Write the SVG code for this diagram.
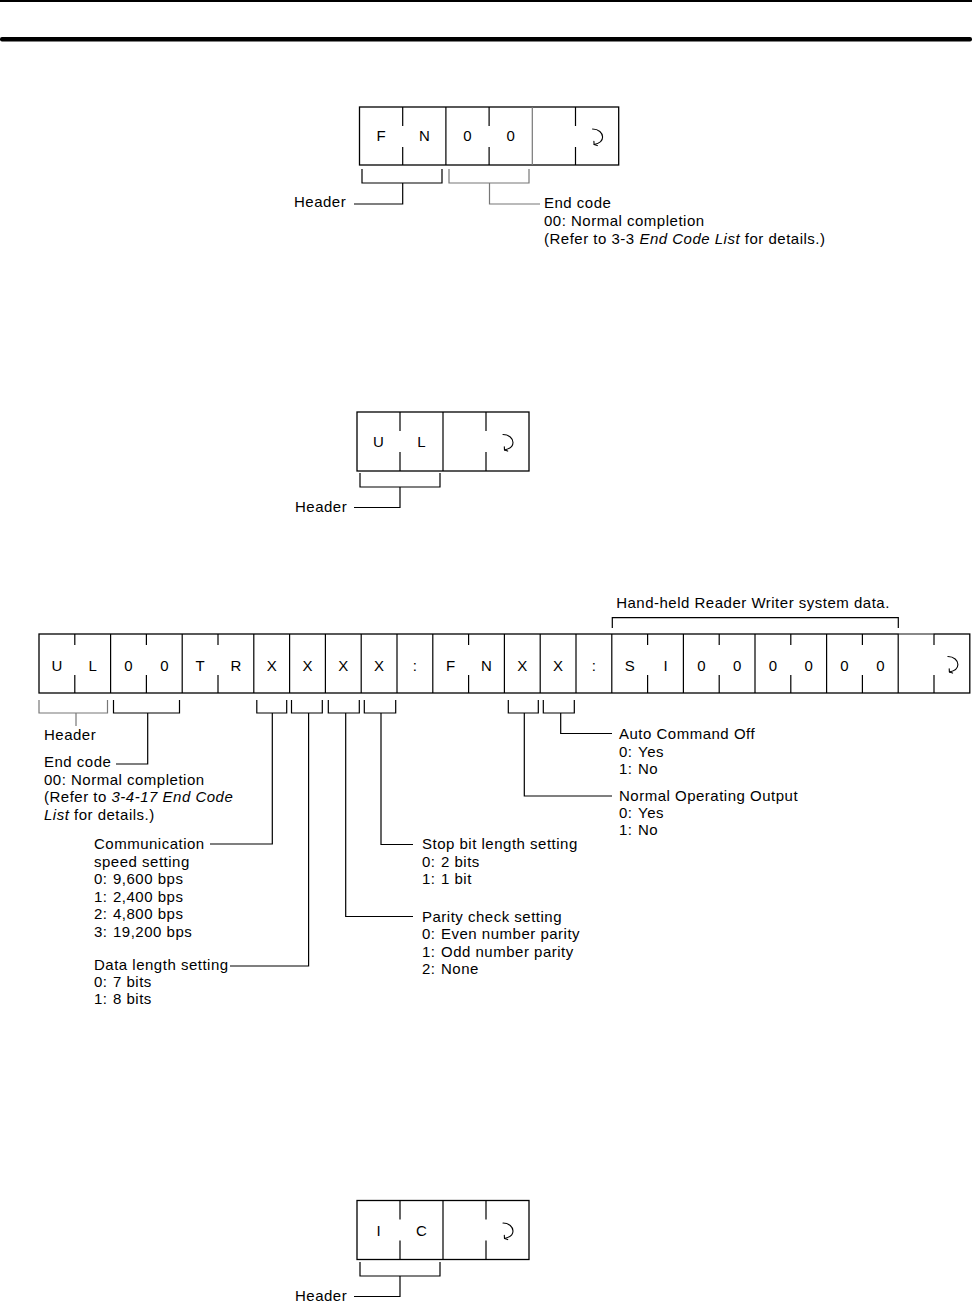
<svg xmlns="http://www.w3.org/2000/svg" width="972" height="1308" viewBox="0 0 972 1308">
<style>
.t{font-family:"Liberation Sans",Arial,sans-serif;font-size:15px;letter-spacing:0.5px;fill:#000;white-space:pre}
.c{font-family:"Liberation Sans",Arial,sans-serif;font-size:15px;fill:#000;text-anchor:middle}
.i{font-style:italic}
.b{fill:#fff;stroke:#000;stroke-width:1.3}
.l{fill:none;stroke:#000;stroke-width:1.2}
.g{fill:none;stroke:#777;stroke-width:1.2}
.r{fill:none;stroke:#000;stroke-width:1.1;stroke-linecap:round;stroke-linejoin:round}
</style>
<defs>
<g id="ret">
<path class="r" d="M-4.5 -7 C1.5 -7 5.5 -3 5.5 1 C5.5 5 2 7.5 -3 8.5"/>
<path class="r" d="M-3.2 5.2 L-3 8.5 L0.2 9.6"/>
</g>
</defs>

<rect x="0" y="0" width="972" height="2" fill="#000"/>
<rect x="0" y="37" width="972" height="4.5" rx="2" fill="#000"/>

<g id="cmd-fn-box">
<rect class="b" x="359.5" y="107" width="259.2" height="58"/>
<path class="l" d="M402.7 107V126M402.7 147V165M445.9 107V165M489.1 107V126M489.1 147V165M575.5 107V126M575.5 147V165"/>
<path class="g" d="M532.3 107V165"/>
<text class="c" x="381.1" y="141">F</text>
<text class="c" x="424.3" y="141">N</text>
<text class="c" x="467.5" y="141">0</text>
<text class="c" x="510.7" y="141">0</text>
<use href="#ret" x="597.1" y="136"/>
</g>

<g id="cmd-ul-box">
<rect class="b" x="357" y="412" width="172" height="59"/>
<path class="l" d="M400 412V431M400 452V471M443 412V471M486 412V431M486 452V471"/>
<text class="c" x="378.5" y="447">U</text>
<text class="c" x="421.5" y="447">L</text>
<use href="#ret" x="507.5" y="441.5"/>
</g>

<g id="response-row">
<rect class="b" x="39" y="634" width="930.8" height="59"/>
<path class="l" d="M74.8 634V645M74.8 675V693M146.4 634V645M146.4 675V693M218 634V645M218 675V693M468.6 634V645M468.6 675V693M647.6 634V645M647.6 675V693M719.2 634V645M719.2 675V693M790.8 634V645M790.8 675V693M862.4 634V645M862.4 675V693M934 634V645M934 675V693"/>
<path class="l" d="M110.6 634V693M182.2 634V693M253.8 634V693M289.6 634V693M325.4 634V693M361.2 634V693M397 634V693M432.8 634V693M504.4 634V693M540.2 634V693M576 634V693M611.8 634V693M683.4 634V693M755 634V693M826.6 634V693M898.2 634V693"/>
<path d="M898.8 634H933.4" stroke="#999" stroke-width="1.4"/>
<text class="c" x="56.9" y="671">U</text>
<text class="c" x="92.7" y="671">L</text>
<text class="c" x="128.5" y="671">0</text>
<text class="c" x="164.3" y="671">0</text>
<text class="c" x="200.1" y="671">T</text>
<text class="c" x="235.9" y="671">R</text>
<text class="c" x="271.7" y="671">X</text>
<text class="c" x="307.5" y="671">X</text>
<text class="c" x="343.3" y="671">X</text>
<text class="c" x="379.1" y="671">X</text>
<text class="c" x="414.9" y="671">:</text>
<text class="c" x="450.7" y="671">F</text>
<text class="c" x="486.5" y="671">N</text>
<text class="c" x="522.3" y="671">X</text>
<text class="c" x="558.1" y="671">X</text>
<text class="c" x="593.9" y="671">:</text>
<text class="c" x="629.7" y="671">S</text>
<text class="c" x="665.5" y="671">I</text>
<text class="c" x="701.3" y="671">0</text>
<text class="c" x="737.1" y="671">0</text>
<text class="c" x="772.9" y="671">0</text>
<text class="c" x="808.7" y="671">0</text>
<text class="c" x="844.5" y="671">0</text>
<text class="c" x="880.3" y="671">0</text>
<use href="#ret" x="952.4" y="663.5"/>
</g>

<g id="cmd-ic-box">
<rect class="b" x="357" y="1200.5" width="172" height="59"/>
<path class="l" d="M400 1200.5V1219.5M400 1240.5V1259.5M443 1200.5V1259.5M486 1200.5V1219.5M486 1240.5V1259.5"/>
<text class="c" x="378.5" y="1235.5">I</text>
<text class="c" x="421.5" y="1235.5">C</text>
<use href="#ret" x="507.5" y="1230"/>
</g>

<g id="connectors">
<path class="l" d="M362 169V183H442V169M402.7 183V204H354"/>
<path class="g" d="M449 169V183H529V169M489.5 183V204H540"/>
<path class="l" d="M360 473V487H440V473M400 487V507.5H354"/>
<path class="l" d="M360 1262V1276H440V1262M400 1276V1296.5H354"/>
<path class="l" d="M612.3 628V617.7H898.3V628"/>
<path class="g" d="M39 700V713H107.5V700M76 713V726"/>
<path class="l" d="M113.5 700V713H179.5V700M147.7 713V764H116"/>
<path class="l" d="M256.8 700V713H286.7V700M272.3 713V844H210"/>
<path class="l" d="M291.5 700V713H322.3V700M308.6 713V966H230"/>
<path class="l" d="M328.3 700V713H359.3V700M345.7 713V916.5H413"/>
<path class="l" d="M364.3 700V713H395.7V700M381 713V844.5H413"/>
<path class="l" d="M508.3 700V713H538.3V700M524.3 713V796H612"/>
<path class="l" d="M543.3 700V713H574.3V700M560.7 713V733.5H612"/>
</g>

<g id="labels-fn">
<text class="t" x="294" y="207">Header</text>
<text class="t" x="544" y="208">End code</text>
<text class="t" x="544" y="226">00: Normal completion</text>
<text class="t" x="544" y="244">(Refer to 3-3 <tspan class="i">End Code List</tspan> for details.)</text>
</g>

<g id="labels-ul">
<text class="t" x="295" y="512">Header</text>
</g>

<g id="labels-row">
<text class="t" x="753" y="608" text-anchor="middle">Hand-held Reader Writer system data.</text>
<text class="t" x="44" y="740">Header</text>
<text class="t" x="44" y="767">End code</text>
<text class="t" x="44" y="785">00: Normal completion</text>
<text class="t" x="44" y="802">(Refer to <tspan class="i">3-4-17 End Code</tspan></text>
<text class="t" x="44" y="820"><tspan class="i">List</tspan> for details.)</text>

<text class="t" x="94" y="849">Communication</text>
<text class="t" x="94" y="867">speed setting</text>
<text class="t" x="94" y="884">0:<tspan x="113">9,600 bps</tspan></text>
<text class="t" x="94" y="902">1:<tspan x="113">2,400 bps</tspan></text>
<text class="t" x="94" y="919">2:<tspan x="113">4,800 bps</tspan></text>
<text class="t" x="94" y="937">3:<tspan x="113">19,200 bps</tspan></text>

<text class="t" x="94" y="970">Data length setting</text>
<text class="t" x="94" y="987">0:<tspan x="113">7 bits</tspan></text>
<text class="t" x="94" y="1004">1:<tspan x="113">8 bits</tspan></text>

<text class="t" x="422" y="849">Stop bit length setting</text>
<text class="t" x="422" y="867">0:<tspan x="441">2 bits</tspan></text>
<text class="t" x="422" y="884">1:<tspan x="441">1 bit</tspan></text>

<text class="t" x="422" y="922">Parity check setting</text>
<text class="t" x="422" y="939">0:<tspan x="441">Even number parity</tspan></text>
<text class="t" x="422" y="957">1:<tspan x="441">Odd number parity</tspan></text>
<text class="t" x="422" y="974">2:<tspan x="441">None</tspan></text>

<text class="t" x="619" y="739">Auto Command Off</text>
<text class="t" x="619" y="757">0:<tspan x="638">Yes</tspan></text>
<text class="t" x="619" y="774">1:<tspan x="638">No</tspan></text>

<text class="t" x="619" y="801">Normal Operating Output</text>
<text class="t" x="619" y="818">0:<tspan x="638">Yes</tspan></text>
<text class="t" x="619" y="835">1:<tspan x="638">No</tspan></text>
</g>

<g id="labels-ic">
<text class="t" x="295" y="1301">Header</text>
</g>
</svg>
